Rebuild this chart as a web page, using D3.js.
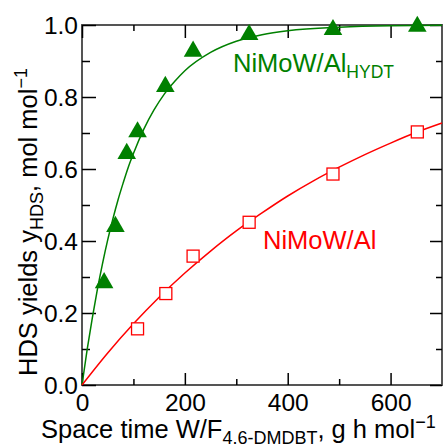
<!DOCTYPE html>
<html>
<head>
<meta charset="utf-8">
<script src="https://cdn.jsdelivr.net/npm/d3@7"></script>
<style>
  body { margin: 0; background: #fff; }
  text { font-family: "Liberation Sans", Arial, sans-serif; }
</style>
</head>
<body>
<div id="chart"></div>
<script>
// data
var hydtTime = [43, 65, 87, 108, 162, 216, 325, 488, 652];
var hydtYield = [0.284, 0.44, 0.643, 0.703, 0.829, 0.927, 0.973, 0.987, 0.996];
var alTime = [108, 163, 216, 325, 488, 652];
var alYield = [0.156, 0.254, 0.358, 0.452, 0.586, 0.703];

// fitted curves
var hydtFitTime = [0, 10, 20, 30, 40, 50, 60, 70, 80, 90, 100, 120, 140, 160, 180, 200, 250, 300, 350, 400, 500, 600, 700];
var hydtFitYield = [0, 0.098, 0.186, 0.266, 0.338, 0.403, 0.461, 0.514, 0.561, 0.605, 0.643, 0.71, 0.764, 0.808, 0.843, 0.873, 0.924, 0.955, 0.973, 0.984, 0.994, 0.998, 0.999];
var alFitTime = [0, 50, 100, 150, 200, 250, 300, 350, 400, 450, 500, 550, 600, 650, 700];
var alFitYield = [0, 0.089, 0.17, 0.244, 0.311, 0.372, 0.428, 0.478, 0.525, 0.567, 0.605, 0.64, 0.672, 0.702, 0.728];

var xTicks = [0, 200, 400, 600];
var xMinor = [100, 300, 500];
var yTicks = [0, 0.2, 0.4, 0.6, 0.8, 1.0];
var yMinor = [0.1, 0.3, 0.5, 0.7, 0.9];

var svgWidth = 443;
var svgHeight = 448;
var margin = { top: 25, right: 1, bottom: 63, left: 82 };
var width = svgWidth - margin.left - margin.right;
var height = svgHeight - margin.top - margin.bottom;

var green = "#008000";
var red = "#ff0000";

var svg = d3.select("#chart")
  .append("svg")
  .attr("width", svgWidth)
  .attr("height", svgHeight);

var chartGroup = svg.append("g")
  .attr("transform", `translate(${margin.left}, ${margin.top})`);

//Scale
var x = d3.scaleLinear().domain([0, 700]).range([0, width]);
var y = d3.scaleLinear().domain([0, 1]).range([height, 0]);

//Frame
chartGroup.append("rect")
  .attr("width", width)
  .attr("height", height)
  .attr("fill", "none")
  .attr("stroke", "#555")
  .attr("stroke-width", 2);

//Axis (ticks pointing inward on all four sides)
function tickAxis(axis, major, minor, majorLen, minorLen, labels) {
  var g = chartGroup.append("g");
  g.call(axis.tickValues(major).tickSize(-majorLen).tickPadding(labels ? majorLen + 4 : 0)
    .tickFormat(labels ? labels : ""));
  g.select(".domain").remove();
  g.selectAll(".tick line").attr("stroke", "#000").attr("stroke-width", 1.5);
  g.selectAll(".tick text")
    .attr("font-size", 24.5)
    .attr("fill", "#000");
  var gm = chartGroup.append("g");
  gm.call(axis.tickValues(minor).tickSize(-minorLen).tickFormat(""));
  gm.select(".domain").remove();
  gm.selectAll(".tick line").attr("stroke", "#000").attr("stroke-width", 1.5);
  return [g, gm];
}

var bottom = tickAxis(d3.axisBottom(x), xTicks, xMinor, 12, 6, d3.format("d"));
bottom.forEach(g => g.attr("transform", `translate(0, ${height})`));
bottom[0].selectAll(".tick text").attr("dy", "0.71em").attr("y", 9);

tickAxis(d3.axisTop(x), xTicks, xMinor, 13, 6, null);

var left = tickAxis(d3.axisLeft(y), yTicks, yMinor, 14, 8, d3.format(".1f"));
left[0].selectAll(".tick text").attr("x", -4).attr("dy", "0.36em");

var right = tickAxis(d3.axisRight(y), yTicks, yMinor, 12, 6, null);
right.forEach(g => g.attr("transform", `translate(${width}, 0)`));

//Fit lines
var line = d3.line()
  .x(d => x(d[0]))
  .y(d => y(d[1]))
  .curve(d3.curveMonotoneX);

chartGroup.append("path")
  .datum(d3.zip(hydtFitTime, hydtFitYield))
  .attr("d", line)
  .attr("fill", "none")
  .attr("stroke", green)
  .attr("stroke-width", 1.5);

chartGroup.append("path")
  .datum(d3.zip(alFitTime, alFitYield))
  .attr("d", line)
  .attr("fill", "none")
  .attr("stroke", red)
  .attr("stroke-width", 1.5);

//Marks
chartGroup.selectAll(".tri")
  .data(d3.zip(hydtTime, hydtYield))
  .enter()
  .append("path")
  .attr("class", "tri")
  .attr("transform", d => `translate(${x(d[0])}, ${y(d[1])})`)
  .attr("d", d3.symbol(d3.symbolTriangle, 150))
  .attr("fill", green);

chartGroup.selectAll(".sq")
  .data(d3.zip(alTime, alYield))
  .enter()
  .append("rect")
  .attr("class", "sq")
  .attr("x", d => x(d[0]) - 6)
  .attr("y", d => y(d[1]) - 6)
  .attr("width", 12)
  .attr("height", 12)
  .attr("fill", "#fff")
  .attr("stroke", red)
  .attr("stroke-width", 1.3);

//Labels
var hydtLabel = svg.append("text")
  .attr("x", 233)
  .attr("y", 72)
  .attr("font-size", 25.5)
  .attr("fill", green);
hydtLabel.append("tspan").text("NiMoW/Al");
hydtLabel.append("tspan").attr("font-size", 17.5).attr("dy", 6).text("HYDT");

svg.append("text")
  .attr("x", 263)
  .attr("y", 249)
  .attr("font-size", 25.5)
  .attr("fill", red)
  .text("NiMoW/Al");

var xTitle = svg.append("text")
  .attr("x", 41)
  .attr("y", 438)
  .attr("font-size", 25.5)
  .attr("fill", "#000");
xTitle.append("tspan").text("Space time W/F");
xTitle.append("tspan").attr("font-size", 18).attr("dy", 6).text("4.6-DMDBT");
xTitle.append("tspan").attr("dy", -6).text(", g h mol");
xTitle.append("tspan").attr("font-size", 18).attr("dy", -10).text("\u22121");

var yTitle = svg.append("text")
  .attr("transform", "translate(37, 376) rotate(-90)")
  .attr("x", 0)
  .attr("y", 0)
  .attr("font-size", 25.5)
  .attr("fill", "#000");
yTitle.append("tspan").text("HDS yields y");
yTitle.append("tspan").attr("font-size", 18).attr("dy", 6).text("HDS");
yTitle.append("tspan").attr("dy", -6).text(", mol mol");
yTitle.append("tspan").attr("font-size", 18).attr("dy", -10).text("\u22121");
</script>
</body>
</html>
